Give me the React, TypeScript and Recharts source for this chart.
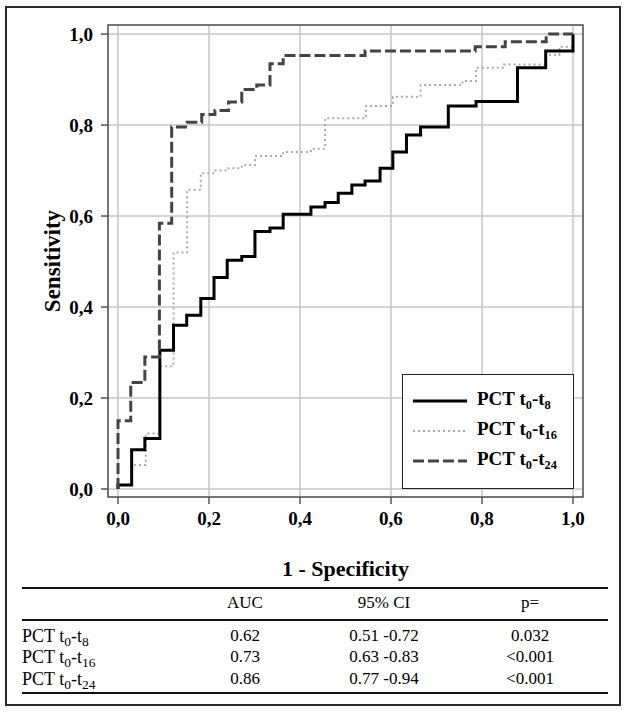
import React from 'react';
import { LineChart, Line, XAxis, YAxis, CartesianGrid, ReferenceArea } from 'recharts';

// ROC curve vertices (1 - specificity, sensitivity)
const fprT8 = [0, 0, 0.03, 0.059, 0.092, 0.122, 0.151, 0.182, 0.211, 0.24, 0.272, 0.301, 0.334, 0.363, 0.424, 0.455, 0.484, 0.514, 0.543, 0.576, 0.604, 0.634, 0.665, 0.726, 0.787, 0.878, 0.94, 1.0];
const tprT8 = [0, 0.009, 0.086, 0.111, 0.305, 0.36, 0.382, 0.419, 0.465, 0.503, 0.511, 0.566, 0.574, 0.604, 0.62, 0.63, 0.65, 0.668, 0.677, 0.705, 0.741, 0.778, 0.796, 0.842, 0.852, 0.926, 0.963, 1.0];

const fprT16 = [0, 0, 0.03, 0.061, 0.091, 0.122, 0.152, 0.182, 0.213, 0.243, 0.272, 0.301, 0.363, 0.424, 0.455, 0.545, 0.604, 0.665, 0.757, 0.787, 0.848, 0.94, 0.97, 1.0];
const tprT16 = [0, 0.009, 0.053, 0.122, 0.27, 0.52, 0.658, 0.694, 0.7, 0.705, 0.712, 0.732, 0.741, 0.748, 0.815, 0.842, 0.862, 0.888, 0.897, 0.926, 0.933, 0.954, 0.972, 1.0];

const fprT24 = [0, 0, 0.028, 0.059, 0.091, 0.118, 0.152, 0.184, 0.213, 0.243, 0.272, 0.305, 0.334, 0.363, 0.543, 0.785, 0.851, 0.941, 1.0];
const tprT24 = [0, 0.15, 0.234, 0.29, 0.584, 0.796, 0.806, 0.823, 0.832, 0.851, 0.878, 0.888, 0.935, 0.953, 0.963, 0.972, 0.983, 1.0, 1.0];

const axisTicks = [0, 0.2, 0.4, 0.6, 0.8, 1.0];
const xDomain = [-0.022, 1.022];
const yDomain = [-0.0176, 1.02];

const seriesNames = ['8', '16', '24'];
const tableHeaders = ['AUC', '95% CI', 'p='];
const aucValues = ['0.62', '0.73', '0.86'];
const ciValues = ['0.51 -0.72', '0.63 -0.83', '0.77 -0.94'];
const pValues = ['0.032', '<0.001', '<0.001'];

const toPoints = (xs: number[], ys: number[]) => xs.map((x, i) => ({ x, y: ys[i] }));
const dataT8 = toPoints(fprT8, tprT8);
const dataT16 = toPoints(fprT16, tprT16);
const dataT24 = toPoints(fprT24, tprT24);

const SERIF = '"Liberation Serif", "Times New Roman", serif';
const fmt = (v: number) => v.toFixed(1).replace('.', ',');

const styles = [
  { stroke: '#000000', width: 3, dash: undefined as string | undefined },
  { stroke: '#ababab', width: 2, dash: '2 3' },
  { stroke: '#444444', width: 3, dash: '11 4' },
];

const PctLabel = ({ n, sub }: { n: string; sub: string }) => (
  <span>
    PCT t<sub style={{ fontSize: sub, verticalAlign: '-0.3em' }}>0</sub>-t
    <sub style={{ fontSize: sub, verticalAlign: '-0.3em' }}>{n}</sub>
  </span>
);

export default function App() {
  const tickStyle = { fontFamily: SERIF, fontWeight: 'bold' as const, fontSize: 19, fill: '#000' };
  const colCenters = [245, 384, 530];
  const rowTops = [626, 647, 669];
  return (
    <div style={{ position: 'absolute', left: 0, top: 0, width: 627, height: 713, background: '#fff', fontFamily: SERIF }}>
      <div style={{ position: 'absolute', left: 5, top: 6, width: 616, height: 700, border: '2px solid #2a2a2a', boxSizing: 'border-box' }} />
      <div style={{ position: 'absolute', left: 0, top: 0 }}>
        <LineChart width={627} height={582} margin={{ top: 25, right: 44, left: 8, bottom: 0 }}>
          <CartesianGrid stroke="#c6c6c6" strokeWidth={1.5} />
          <XAxis
            type="number"
            dataKey="x"
            domain={xDomain}
            ticks={axisTicks}
            tickFormatter={fmt}
            allowDataOverflow
            axisLine={false}
            tickSize={7}
            tickMargin={8}
            tickLine={{ stroke: '#555', strokeWidth: 1.5 }}
            tick={tickStyle}
            height={85}
            label={{ value: '1 - Specificity', position: 'insideBottom', offset: 6, style: { fontFamily: SERIF, fontWeight: 'bold', fontSize: 22, fill: '#000' } }}
          />
          <YAxis
            type="number"
            dataKey="y"
            domain={yDomain}
            ticks={axisTicks}
            tickFormatter={fmt}
            allowDataOverflow
            axisLine={false}
            tickSize={7}
            tickMargin={8}
            tickLine={{ stroke: '#555', strokeWidth: 1.5 }}
            tick={tickStyle}
            width={100}
            label={{ value: 'Sensitivity', angle: -90, position: 'insideLeft', offset: 44, style: { textAnchor: 'middle', fontFamily: SERIF, fontWeight: 'bold', fontSize: 23, fill: '#000' } }}
          />
          <Line data={dataT16} dataKey="y" type="stepAfter" stroke={styles[1].stroke} strokeWidth={styles[1].width} strokeDasharray={styles[1].dash} dot={false} isAnimationActive={false} />
          <Line data={dataT8} dataKey="y" type="stepAfter" stroke={styles[0].stroke} strokeWidth={styles[0].width} dot={false} isAnimationActive={false} />
          <Line data={dataT24} dataKey="y" type="stepAfter" stroke={styles[2].stroke} strokeWidth={styles[2].width} strokeDasharray={styles[2].dash} dot={false} isAnimationActive={false} />
          <ReferenceArea x1={xDomain[0]} x2={xDomain[1]} y1={yDomain[0]} y2={yDomain[1]} fill="none" fillOpacity={0} stroke="#555" strokeWidth={1.5} ifOverflow="visible" />
        </LineChart>
      </div>
      {/* legend */}
      <div style={{ position: 'absolute', left: 402, top: 374, width: 172, height: 115, border: '1.5px solid #222', background: '#fff', boxSizing: 'border-box' }}>
        {seriesNames.map((n, i) => (
          <div key={n} style={{ position: 'absolute', left: 0, top: 13 + i * 30, height: 26, width: 170 }}>
            <svg width={56} height={26} style={{ position: 'absolute', left: 10, top: 0 }}>
              <line x1={0} y1={13} x2={54} y2={13} stroke={styles[i].stroke} strokeWidth={styles[i].width} strokeDasharray={styles[i].dash} />
            </svg>
            <div style={{ position: 'absolute', left: 74, top: 0, fontWeight: 'bold', fontSize: 19, whiteSpace: 'nowrap', lineHeight: '22px' }}>
              <PctLabel n={n} sub="0.65em" />
            </div>
          </div>
        ))}
      </div>
      {/* table */}
      <div style={{ position: 'absolute', left: 22, top: 587, width: 586, height: 2, background: '#111' }} />
      <div style={{ position: 'absolute', left: 22, top: 619, width: 586, height: 2, background: '#111' }} />
      <div style={{ position: 'absolute', left: 22, top: 692, width: 586, height: 2, background: '#111' }} />
      {tableHeaders.map((h, i) => (
        <div key={h} style={{ position: 'absolute', left: colCenters[i] - 60, width: 120, top: 593, textAlign: 'center', fontSize: 17, lineHeight: '20px' }}>{h}</div>
      ))}
      {seriesNames.map((n, r) => (
        <React.Fragment key={n}>
          <div style={{ position: 'absolute', left: 22, top: rowTops[r], fontSize: 18, lineHeight: '20px', whiteSpace: 'nowrap' }}>
            <PctLabel n={n} sub="0.75em" />
          </div>
          {[aucValues[r], ciValues[r], pValues[r]].map((v, c) => (
            <div key={c} style={{ position: 'absolute', left: colCenters[c] - 60, width: 120, top: rowTops[r], textAlign: 'center', fontSize: 17, lineHeight: '20px' }}>{v}</div>
          ))}
        </React.Fragment>
      ))}
    </div>
  );
}
